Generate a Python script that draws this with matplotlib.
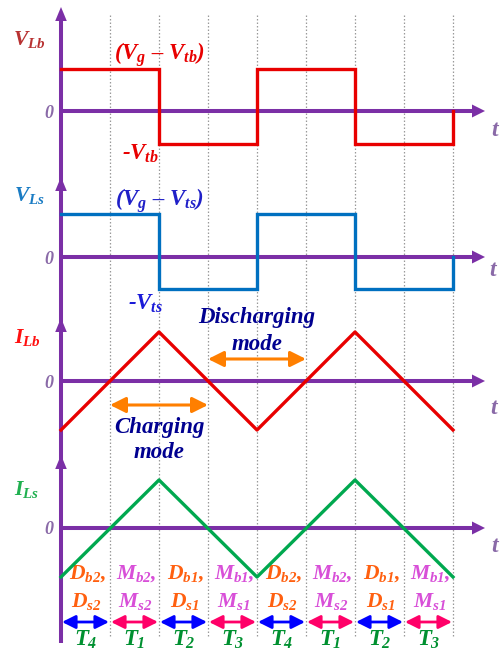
import numpy as np
import matplotlib
matplotlib.use("Agg")
import matplotlib.pyplot as plt

plt.rcParams['mathtext.fontset'] = 'custom'
plt.rcParams['mathtext.it'] = 'Liberation Serif:italic:bold'
plt.rcParams['mathtext.rm'] = 'Liberation Serif:italic:bold'
plt.rcParams['mathtext.bf'] = 'Liberation Serif:italic:bold'
FONT = dict(family='Liberation Serif', weight='bold', style='italic')

# ---------------- data ----------------
edges = [0, 2, 4, 6, 8]                  # switching instants (units of T/8)
vlb_levels = [1.0, -0.79, 1.0, -0.79]     # Vg-Vtb , -Vtb
vls_levels = [1.0, -0.74, 1.0, -0.74]     # Vg-Vts , -Vts
ilb_nodes_t = [0, 2, 4, 6, 8]
ilb_nodes = [-1.0, 1.0, -1.0, 1.0, -1.0]
ils_nodes_t = [0, 2, 4, 6, 8]
ils_nodes = [-1.0, 0.98, -1.0, 0.98, -1.0]
grid_t = [1, 2, 3, 4, 5, 6, 7, 8]
seg_start = [0, 1, 2, 3, 4, 5, 6, 7]
seg_names = ['T_4', 'T_1', 'T_2', 'T_3', 'T_4', 'T_1', 'T_2', 'T_3']
seg_dev1 = ['D_{b2}', 'M_{b2}', 'D_{b1}', 'M_{b1}', 'D_{b2}', 'M_{b2}', 'D_{b1}', 'M_{b1}']
seg_dev2 = ['D_{s2}', 'M_{s2}', 'D_{s1}', 'M_{s1}', 'D_{s2}', 'M_{s2}', 'D_{s1}', 'M_{s1}']
seg_kind = ['D', 'M', 'D', 'M', 'D', 'M', 'D', 'M']

# ---------------- style ----------------
PURPLE = '#7b2fa6'
ZERO_C = '#8a6aa8'
RED = '#e80000'
BLUE_LINE = '#0070c0'
GREEN_LINE = '#00a84f'
NAVY = '#000090'
ORANGE = '#ff7f00'
D_COL = '#ff6010'
M_COL = '#d84fd8'
T_COL = '#009030'
ARR_COL = {'D': '#0000ff', 'M': '#ff0068'}
LBL_COL = {'D': D_COL, 'M': M_COL}

W, H = 500, 650
X0, DX = 61, 49          # pixel of t=0 and pixels per unit t
XLIM = (-X0 / DX, (W - X0) / DX)

fig = plt.figure(figsize=(5, 6.5), dpi=100)
bg = fig.add_axes([0, 0, 1, 1])
bg.set_xlim(*XLIM)
bg.set_ylim(H, 0)
bg.axis('off')

# dotted grid
bg.vlines(grid_t, 15, 636, colors='#9a9a9a', linestyles=(0, (1.2, 1.6)), lw=0.9, zorder=1)

# axes lines
zeros = [111, 257, 381, 528]
vtips = [7, 177, 318, 455]
bg.plot([0, 0], [643, 12], color=PURPLE, lw=2.9, solid_capstyle='butt', zorder=2)
hw = 5.8 / DX
for tip in vtips:
    bg.fill([-hw, hw, 0], [tip + 14, tip + 14, tip], color=PURPLE, lw=0, zorder=3)
xtip = (485 - X0) / DX
hl = 13 / DX
for z in zeros:
    bg.plot([0, xtip - hl], [z, z], color=PURPLE, lw=2.9, solid_capstyle='butt', zorder=2)
    bg.fill([xtip - hl, xtip - hl, xtip], [z - 6.5, z + 6.5, z], color=PURPLE, lw=0, zorder=3)


def panel(z, amp):
    ax = fig.add_axes([0, 0, 1, 1])
    ax.patch.set_alpha(0)
    ax.set_xlim(*XLIM)
    ax.set_ylim(-(H - z) / amp, z / amp)
    ax.axis('off')
    return ax


def steps(levels, col, ax):
    x = np.repeat(edges, 2)[1:]
    y = np.append(np.repeat(levels, 2), 0.0)
    ax.plot(x, y, color=col, lw=2.4, solid_joinstyle='miter', zorder=5)


a1 = panel(111, 42)
steps(vlb_levels, RED, a1)
a2 = panel(257, 43)
steps(vls_levels, BLUE_LINE, a2)
a3 = panel(381, 49)
a3.plot(ilb_nodes_t, ilb_nodes, color=RED, lw=2.4, zorder=5)
a4 = panel(528, 49)
a4.plot(ils_nodes_t, ils_nodes, color=GREEN_LINE, lw=2.4, zorder=5)


def px(x):
    return (x - X0) / DX


def txt(x, y, s, c, size=14, **kw):
    bg.text(px(x), y, s, color=c, fontsize=size, ha='center', va='center', **FONT, **kw)


# panel labels
txt(29, 40, r'$V_{Lb}$', '#b83232', 15.5)
txt(29, 195, r'$V_{Ls}$', '#1a7cc4', 15.5)
txt(27, 337, r'$I_{Lb}$', '#ff1010', 15.5)
txt(27, 490, r'$I_{Ls}$', '#20b050', 15.5)
for z in zeros:
    txt(49, z + 2, '0', ZERO_C, 13)
txt(495, 131, 't', ZERO_C, 17)
txt(493, 271, 't', ZERO_C, 17)
txt(494, 408, 't', ZERO_C, 17)
txt(495, 546, 't', ZERO_C, 17)

txt(159, 55, r'($V_g$ – $V_{tb}$)', RED, 16.5)
txt(140, 154, r'-$V_{tb}$', RED, 16.5)
txt(159, 201, r'($V_g$ – $V_{ts}$)', '#2020c8', 16.5)
txt(146, 304, r'-$V_{ts}$', '#1a1ad8', 16.5)

txt(257, 318, 'Discharging', NAVY, 16.5)
txt(257, 344, 'mode', NAVY, 16.5)
txt(159, 427, 'Charging', NAVY, 16.5)
txt(159, 452, 'mode', NAVY, 16.5)


def darrow(t0, t1, y, col, lw, hl, hwid, ms=10):
    bg.annotate('', xy=(t1, y), xytext=(t0, y),
                arrowprops=dict(arrowstyle=f'<|-|>,head_length={hl},head_width={hwid}',
                                color=col, lw=lw, shrinkA=0, shrinkB=0, mutation_scale=ms),
                zorder=6)


darrow(3, 5, 359, ORANGE, 2.2, 0.94, 0.47)
darrow(1, 3, 405, ORANGE, 2.2, 0.94, 0.47)

for s, n, d1, d2, k in zip(seg_start, seg_names, seg_dev1, seg_dev2, seg_kind):
    xc = X0 + DX * (s + 0.5)
    txt(xc + 2, 574, f'${d1}$,', LBL_COL[k], 15.5)
    txt(xc + 1, 601, f'${d2}$', LBL_COL[k], 15.5)
    txt(xc, 640, f'${n}$', T_COL, 16.5)
    darrow(s + 0.02, s + 0.98, 622, ARR_COL[k], 2.0, 0.8, 0.4)

fig.savefig('out.png', dpi=100)
